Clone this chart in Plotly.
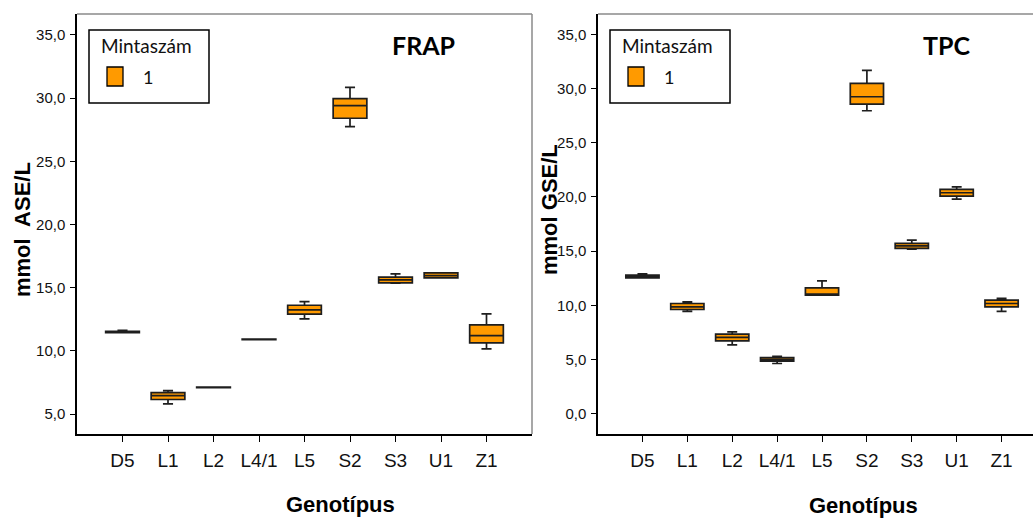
import plotly.graph_objects as go

W, H = 1033, 519

# ---------------- data ----------------
genotypes = ["D5", "L1", "L2", "L4/1", "L5", "S2", "S3", "U1", "Z1"]

# FRAP (mmol ASE/L)
frap_lower  = [11.45, 5.81, 7.08, 10.88, 12.53, 27.75, 15.36, 15.78, 10.16]
frap_q1     = [11.45, 6.15, 7.08, 10.88, 12.90, 28.41, 15.38, 15.78, 10.63]
frap_median = [11.50, 6.46, 7.10, 10.90, 13.24, 29.41, 15.62, 15.96, 11.21]
frap_q3     = [11.55, 6.70, 7.13, 10.93, 13.61, 29.96, 15.83, 16.17, 12.06]
frap_upper  = [11.62, 6.86, 7.13, 10.93, 13.90, 30.86, 16.09, 16.17, 12.93]

# TPC (mmol GSE/L)
tpc_lower  = [12.55, 9.45, 6.37, 4.65, 10.95, 27.95, 15.20, 19.81, 9.45]
tpc_q1     = [12.55, 9.63, 6.73, 4.86, 10.95, 28.57, 15.26, 20.08, 9.87]
tpc_median = [12.65, 9.87, 7.05, 5.00, 11.00, 29.24, 15.50, 20.39, 10.18]
tpc_q3     = [12.80, 10.18, 7.35, 5.20, 11.62, 30.48, 15.72, 20.70, 10.49]
tpc_upper  = [12.92, 10.33, 7.56, 5.30, 12.27, 31.68, 16.02, 20.94, 10.65]

frap_ticks = [5, 10, 15, 20, 25, 30, 35]
tpc_ticks = [0, 5, 10, 15, 20, 25, 30, 35]

legend_title = "Mintaszám"
legend_label = "1"

ORANGE = "#FF9A00"
EDGE = "#1e1e1e"

def px(x):
    return x / W

def py(y):
    return 1 - y / H

fig = go.Figure()

positions = list(range(len(genotypes)))

fig.add_trace(go.Box(
    x=positions, lowerfence=frap_lower, q1=frap_q1, median=frap_median,
    q3=frap_q3, upperfence=frap_upper,
    fillcolor=ORANGE, line=dict(color=EDGE, width=1.7),
    width=0.74, whiskerwidth=0.3, boxpoints=False,
    xaxis="x", yaxis="y", showlegend=False, hoverinfo="y"))

fig.add_trace(go.Box(
    x=positions, lowerfence=tpc_lower, q1=tpc_q1, median=tpc_median,
    q3=tpc_q3, upperfence=tpc_upper,
    fillcolor=ORANGE, line=dict(color=EDGE, width=1.7),
    width=0.74, whiskerwidth=0.3, boxpoints=False,
    xaxis="x2", yaxis="y2", showlegend=False, hoverinfo="y"))

tickfont_x = dict(family="Liberation Sans, Arial", size=19, color="#111")
tickfont_y = dict(family="Liberation Sans, Arial", size=15, color="#111")

common_x = dict(tickmode="array", tickvals=positions, ticktext=genotypes,
                showline=True, linecolor="black", linewidth=1.5,
                ticks="outside", ticklen=6, tickcolor="black", tickwidth=1.2,
                showgrid=False, zeroline=False, tickfont=tickfont_x,
                mirror=False, fixedrange=True, ticklabelstandoff=2)
common_y = dict(showline=True, linecolor="black", linewidth=1.5,
                ticks="outside", ticklen=5, tickcolor="black", tickwidth=1.2,
                showgrid=False, zeroline=False, tickfont=tickfont_y,
                tickformat=".1f", mirror=False, fixedrange=True,
                ticklabelstandoff=2)

y0, y1 = py(434), py(14)

fig.update_layout(
    width=W, height=H,
    margin=dict(l=0, r=0, t=0, b=0),
    paper_bgcolor="white", plot_bgcolor="white",
    separators=",.",
    showlegend=False,
    xaxis=dict(common_x, domain=[px(77), px(532)], range=[-1, 9.0], anchor="y"),
    yaxis=dict(common_y, domain=[y0, y1], range=[3.42, 36.66],
               tickvals=frap_ticks, anchor="x"),
    xaxis2=dict(common_x, domain=[px(598), 1.0], range=[-0.99, 8.70], anchor="y2"),
    yaxis2=dict(common_y, domain=[y0, y1], range=[-1.85, 36.87],
                tickvals=tpc_ticks, anchor="x2"),
)

shapes = []
GRAY = "#8a8a8a"
# frame lines (top / right) in gray
shapes.append(dict(type="line", xref="paper", yref="paper",
                   x0=px(77), x1=px(532), y0=py(14), y1=py(14),
                   line=dict(color=GRAY, width=1.5)))
shapes.append(dict(type="line", xref="paper", yref="paper",
                   x0=px(532), x1=px(532), y0=py(14), y1=py(434),
                   line=dict(color=GRAY, width=1.5)))
shapes.append(dict(type="line", xref="paper", yref="paper",
                   x0=px(598), x1=1.0, y0=py(14), y1=py(14),
                   line=dict(color=GRAY, width=1.5)))

annotations = []
for off in (0, 521):
    # legend frame
    shapes.append(dict(type="rect", xref="paper", yref="paper",
                       x0=px(89 + off), x1=px(209 + off), y0=py(30), y1=py(103),
                       line=dict(color="black", width=1.5), fillcolor="white"))
    # legend swatch
    shapes.append(dict(type="rect", xref="paper", yref="paper",
                       x0=px(107 + off), x1=px(123 + off), y0=py(67), y1=py(86),
                       line=dict(color="black", width=1.3), fillcolor=ORANGE))
    annotations.append(dict(text=legend_title, xref="paper", yref="paper",
                            x=px(146 + off), y=py(45), showarrow=False,
                            xanchor="center", yanchor="middle",
                            font=dict(family="Lato", size=19, color="#111")))
    annotations.append(dict(text=legend_label, xref="paper", yref="paper",
                            x=px(148 + off), y=py(77), showarrow=False,
                            xanchor="center", yanchor="middle",
                            font=dict(family="Lato", size=18, color="#111")))

# panel titles
annotations.append(dict(text="<b>FRAP</b>", xref="paper", yref="paper",
                        x=px(423), y=py(45), showarrow=False,
                        xanchor="center", yanchor="middle",
                        font=dict(family="Lato", size=25, color="black")))
annotations.append(dict(text="<b>TPC</b>", xref="paper", yref="paper",
                        x=px(946), y=py(45), showarrow=False,
                        xanchor="center", yanchor="middle",
                        font=dict(family="Lato", size=25, color="black")))

# axis titles
title_font = dict(family="Liberation Sans, Arial", size=22, color="black")
annotations.append(dict(text="<b>mmol\u00a0 ASE/L</b>", xref="paper", yref="paper",
                        x=px(22), y=py(230), showarrow=False, textangle=-90,
                        xanchor="center", yanchor="middle", font=title_font))
annotations.append(dict(text="<b>mmol GSE/L</b>", xref="paper", yref="paper",
                        x=px(549), y=py(210), showarrow=False, textangle=-90,
                        xanchor="center", yanchor="middle", font=title_font))
annotations.append(dict(text="<b>Genotípus</b>", xref="paper", yref="paper",
                        x=px(340), y=py(504), showarrow=False,
                        xanchor="center", yanchor="middle",
                        font=dict(family="Liberation Sans, Arial", size=22, color="black")))
annotations.append(dict(text="<b>Genotípus</b>", xref="paper", yref="paper",
                        x=px(863), y=py(505), showarrow=False,
                        xanchor="center", yanchor="middle",
                        font=dict(family="Liberation Sans, Arial", size=22, color="black")))

fig.update_layout(shapes=shapes, annotations=annotations)

fig.write_html("out.html")
